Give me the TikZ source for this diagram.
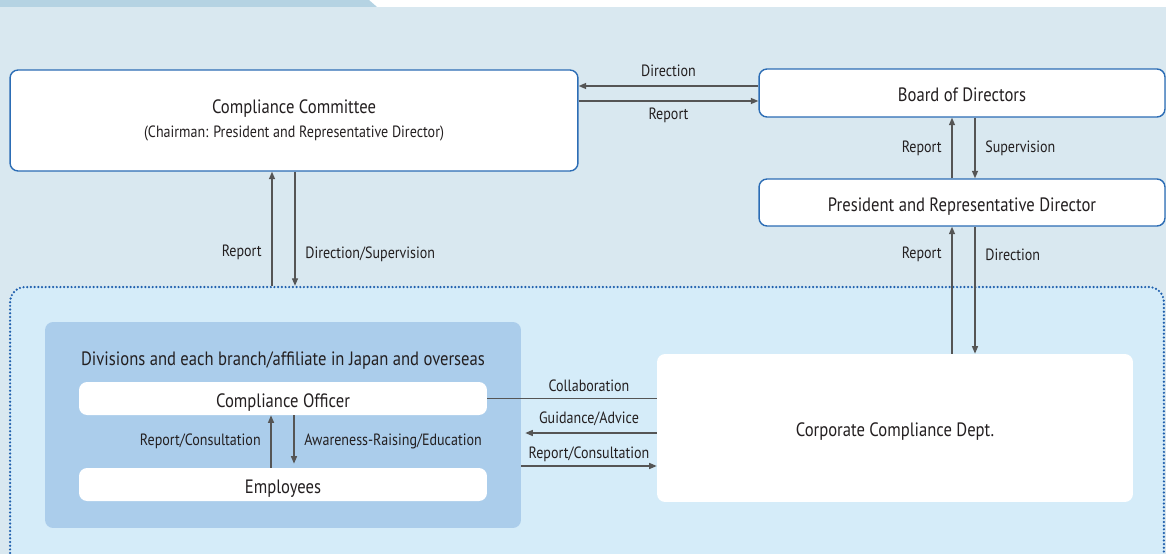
\documentclass[tikz,border=0pt]{standalone}
\usepackage{fontspec}
\setmainfont{PT Sans}[FakeStretch=0.86]
\usetikzlibrary{positioning,arrows.meta}

\definecolor{bgblue}{HTML}{D9E8F0}
\definecolor{tabblue}{HTML}{B5D3E3}
\definecolor{frameblue}{HTML}{D5ECF9}
\definecolor{divblue}{HTML}{ABCDEB}
\definecolor{lineblue}{HTML}{2C6DB5}
\definecolor{dotblue}{HTML}{1F5FAD}
\definecolor{arrgray}{HTML}{555555}
\definecolor{inkgray}{HTML}{231F20}

\newcommand{\bigtxt}{\fontsize{11}{13}\selectfont}
\newcommand{\smalltxt}{\fontsize{9.3}{11}\selectfont}

\begin{document}
\begin{tikzpicture}[
    x=0.02cm,y=-0.02cm,
    >={Triangle[length=1.5mm,width=1.2mm]},
    whitebox/.style={fill=white,rounded corners=0.16cm,inner sep=0pt,align=center,text=inkgray,font=\bigtxt},
    onerow/.style={text height=9.8pt,text depth=0pt},
    topbox/.style={whitebox,draw=lineblue,line width=0.8pt},
    divbox/.style={fill=divblue,rounded corners=0.16cm,inner sep=0pt},
    frame/.style={draw=dotblue,fill=frameblue,line width=1.4pt,dash pattern=on 0pt off 2.1pt,line cap=round,rounded corners=0.3cm,inner sep=0pt},
    lbl/.style={font=\smalltxt,text=inkgray,inner sep=1.5pt},
    conn/.style={draw=arrgray,line width=0.75pt},
    arr/.style={conn,->}
]
\clip (0,0) rectangle (1166,554);
\fill[bgblue] (0,7) rectangle (1166,554);
\fill[tabblue] (0,0) -- (369,0) -- (377,7) -- (0,7) -- cycle;

% upper boxes
\node[topbox,minimum width=11.36cm,minimum height=2.02cm] (cc) at (294,120.5)
    {Compliance Committee\\[1pt]{\smalltxt (Chairman: President and Representative Director)}};
\node[topbox,onerow,minimum width=8.12cm,minimum height=0.96cm] (bod) at (962,93) {Board of Directors};
\node[topbox,onerow,minimum width=8.12cm,minimum height=0.94cm] (pres) at (962,202.5) {President and Representative Director};

% dotted group and what is in it
\node[frame,minimum width=23.08cm,minimum height=6cm] (grp) at (587,437) {};
\node[divbox,minimum width=9.52cm,minimum height=4.12cm] (div) at (283,425) {};
\node[lbl,font=\bigtxt] (divtitle) at (283,361) {Divisions and each branch/affiliate in Japan and overseas};
\node[whitebox,onerow,minimum width=8.16cm,minimum height=0.66cm] (co) at (283,398.5) {Compliance Officer};
\node[whitebox,onerow,minimum width=8.16cm,minimum height=0.66cm] (emp) at (283,484.5) {Employees};
\node[whitebox,onerow,minimum width=9.52cm,minimum height=2.96cm] (corp) at (895,428) {Corporate Compliance Dept.};

% committee <-> board
\draw[arr] (bod.west |- 0,86) -- node[lbl,above=3.5pt]{Direction} (cc.east |- 0,86);
\draw[arr] (cc.east |- 0,101) -- node[lbl,below=2pt]{Report} (bod.west |- 0,101);

% board <-> president
\draw[arr] (pres.north -| 952,0) -- node[lbl,left=4pt]{Report} (bod.south -| 952,0);
\draw[arr] (bod.south -| 975,0) -- node[lbl,right=4pt]{Supervision} (pres.north -| 975,0);

% president <-> corporate dept
\draw[arr] (corp.north -| 952,0) -- node[lbl,left=4pt,pos=0.78]{Report} (pres.south -| 952,0);
\draw[arr] (pres.south -| 975,0) -- node[lbl,right=4pt,pos=0.22]{Direction} (corp.north -| 975,0);

% committee <-> group
\draw[arr] (grp.north -| 272,0) -- node[lbl,left=4pt,pos=0.29]{Report} (cc.south -| 272,0);
\draw[arr] (cc.south -| 295,0) -- node[lbl,right=4pt,pos=0.72]{Direction/Supervision} (grp.north -| 295,0);

% officer <-> employees
\draw[arr] (emp.north -| 271,0) -- node[lbl,left=4pt]{Report/Consultation} (co.south -| 271,0);
\draw[arr,shorten >=0.08cm] (co.south -| 294,0) -- node[lbl,right=4pt]{Awareness-Raising/Education} (emp.north -| 294,0);

% divisions <-> corporate dept
\draw[conn] (co.east) -- node[lbl,above=2pt,pos=0.6]{Collaboration} (corp.west |- co.east);
\draw[arr,shorten >=0.08cm] (corp.west |- 0,433) -- node[lbl,above=2pt]{Guidance/Advice} (div.east |- 0,433);
\draw[arr] (div.east |- 0,466) -- node[lbl,above=0.5pt]{Report/Consultation} (corp.west |- 0,466);
\end{tikzpicture}
\end{document}
